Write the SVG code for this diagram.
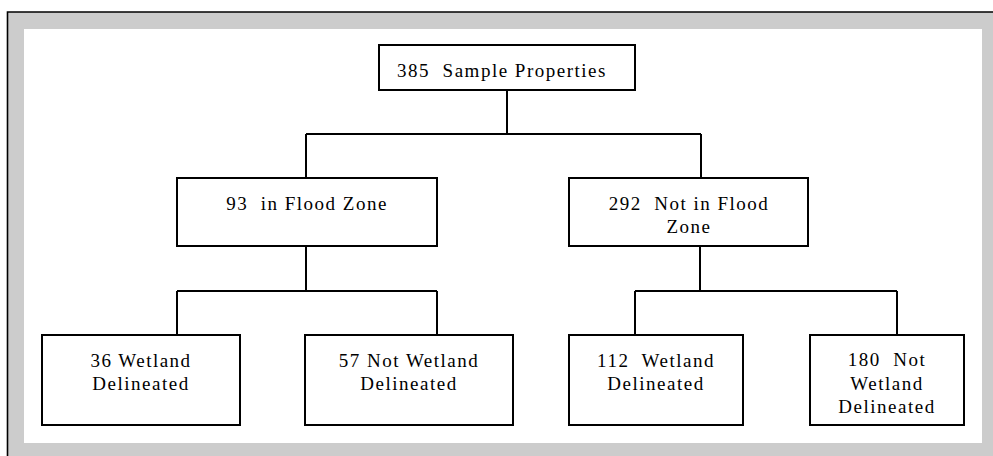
<svg xmlns="http://www.w3.org/2000/svg" width="993" height="456" viewBox="0 0 993 456">
<style>
.box{fill:#fff;stroke:#000;stroke-width:2}
.conn{fill:none;stroke:#000;stroke-width:2}
text{font-family:"Liberation Serif","Times New Roman",serif;font-size:19px;fill:#000;text-anchor:middle;letter-spacing:1.5px}
</style>
<rect x="7" y="12" width="986" height="444" fill="#cccccc"/>
<rect x="24" y="29" width="958" height="414" fill="#ffffff"/>
<path d="M7.5 456 V12 H993" fill="none" stroke="#000" stroke-width="1.6"/>
<g id="connectors">
<path class="conn" d="M507 90 V134 M306 134 H701 M306 134 V178 M701 134 V178"/>
<path class="conn" d="M306 246 V291 M177 291 H437 M177 291 V335 M437 291 V335"/>
<path class="conn" d="M700 246 V291 M635 291 H897 M635 291 V335 M897 291 V335"/>
</g>
<g id="n385">
<rect class="box" x="379" y="45" width="256" height="45"/>
<text x="502" y="77" xml:space="preserve">385  Sample Properties</text>
</g>
<g id="n93">
<rect class="box" x="177" y="178" width="260" height="68"/>
<text x="307" y="210" xml:space="preserve">93  in Flood Zone</text>
</g>
<g id="n292">
<rect class="box" x="569" y="178" width="239" height="68"/>
<text x="689" y="210" xml:space="preserve">292  Not in Flood</text>
<text x="689" y="233">Zone</text>
</g>
<g id="n36">
<rect class="box" x="42" y="335" width="198" height="90"/>
<text x="141" y="367">36 Wetland</text>
<text x="141" y="390">Delineated</text>
</g>
<g id="n57">
<rect class="box" x="305" y="335" width="208" height="90"/>
<text x="409" y="367">57 Not Wetland</text>
<text x="409" y="390">Delineated</text>
</g>
<g id="n112">
<rect class="box" x="569" y="335" width="174" height="90"/>
<text x="656" y="367" xml:space="preserve">112  Wetland</text>
<text x="656" y="390">Delineated</text>
</g>
<g id="n180">
<rect class="box" x="810" y="335" width="154" height="90"/>
<text x="887" y="366" xml:space="preserve">180  Not</text>
<text x="887" y="390">Wetland</text>
<text x="887" y="413">Delineated</text>
</g>
</svg>
